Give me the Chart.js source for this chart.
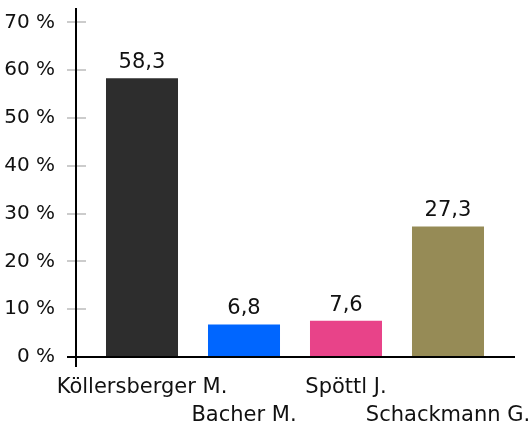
<!DOCTYPE html>
<html>
<head>
<meta charset="utf-8">
<script src="https://cdn.jsdelivr.net/npm/chart.js@4/dist/chart.umd.min.js"></script>
<style>
  html, body { margin: 0; padding: 0; background: #fff; }
  #wrap { width: 529px; height: 423px; }
</style>
</head>
<body>
<div id="wrap"><canvas id="grafico"></canvas></div>
<script>
// datos
const nombres = ['Köllersberger M.', 'Bacher M.', 'Spöttl J.', 'Schackmann G.'];
const filas = [0, 1, 0, 1]; // fila de la etiqueta (escalonada)
const valores = [58.3, 6.8, 7.6, 27.3];
const colores = ['#2d2d2d', '#0066ff', '#e84389', '#968b56'];
const marcasY = [0, 10, 20, 30, 40, 50, 60, 70];

const fuente = 'DejaVu Sans';

// etiquetas de dos lineas, una de ellas vacia
const etiquetas = nombres.map((n, i) => filas[i] === 0 ? [n, ''] : ['', n]);

// ejes cruzados como en el original
const ejes = {
  id: 'ejes',
  afterDatasetsDraw(chart) {
    const { ctx, chartArea } = chart;
    const y = chart.scales.y;
    const xEje = chartArea.left - 15;
    const yCero = y.getPixelForValue(0);
    ctx.save();
    ctx.lineWidth = 2;
    ctx.strokeStyle = '#cccccc';
    y.ticks.forEach(t => {
      const py = Math.round(y.getPixelForValue(t.value));
      ctx.beginPath();
      ctx.moveTo(xEje - 9, py);
      ctx.lineTo(xEje + 10, py);
      ctx.stroke();
    });
    ctx.strokeStyle = '#000';
    ctx.beginPath();
    ctx.moveTo(xEje, chartArea.top);
    ctx.lineTo(xEje, yCero + 10);
    ctx.stroke();
    ctx.beginPath();
    ctx.moveTo(xEje - 9, Math.round(yCero));
    ctx.lineTo(chartArea.right + 16, Math.round(yCero));
    ctx.stroke();
    ctx.restore();
  }
};

// valores encima de las barras
const rotulos = {
  id: 'rotulos',
  afterDatasetsDraw(chart) {
    const { ctx } = chart;
    const meta = chart.getDatasetMeta(0);
    ctx.save();
    ctx.font = '21px "' + fuente + '"';
    ctx.fillStyle = '#111';
    ctx.textAlign = 'center';
    ctx.textBaseline = 'alphabetic';
    meta.data.forEach((bar, i) => {
      const txt = valores[i].toFixed(1).replace('.', ',');
      ctx.fillText(txt, bar.x, bar.y - 10);
    });
    ctx.restore();
  }
};

const invisible = 'rgba(0,0,0,0)';

new Chart(document.getElementById('grafico'), {
  type: 'bar',
  data: {
    labels: etiquetas,
    datasets: [{
      data: valores,
      backgroundColor: colores,
      borderWidth: 0,
      categoryPercentage: 1,
      barPercentage: 0.706
    }]
  },
  options: {
    responsive: true,
    maintainAspectRatio: false,
    animation: false,
    layout: { padding: { top: 8, right: 30, bottom: 0, left: 0 } },
    plugins: {
      legend: { display: false },
      tooltip: { enabled: false }
    },
    scales: {
      x: {
        grid: { display: true, drawOnChartArea: false, drawTicks: true, tickLength: 16, color: invisible },
        border: { display: false },
        afterFit: s => {
          s.height = 66;
          s.paddingLeft = 0;
          s.paddingRight = 0;
        },
        ticks: {
          autoSkip: false,
          maxRotation: 0,
          minRotation: 0,
          padding: 0,
          color: '#111',
          font: { family: fuente, size: 21, lineHeight: 1.35 }
        }
      },
      y: {
        min: 0,
        max: 73,
        grid: { display: true, drawOnChartArea: false, drawTicks: true, tickLength: 36, color: invisible },
        border: { display: false },
        afterFit: s => { s.width = 91; },
        afterBuildTicks: s => {
          s.ticks = marcasY.map(v => ({ value: v }));
        },
        ticks: {
          padding: 0,
          color: '#111',
          font: { family: fuente, size: 20, lineHeight: 0.6 },
          callback: v => v + ' %'
        }
      }
    }
  },
  plugins: [ejes, rotulos]
});
</script>
</body>
</html>
